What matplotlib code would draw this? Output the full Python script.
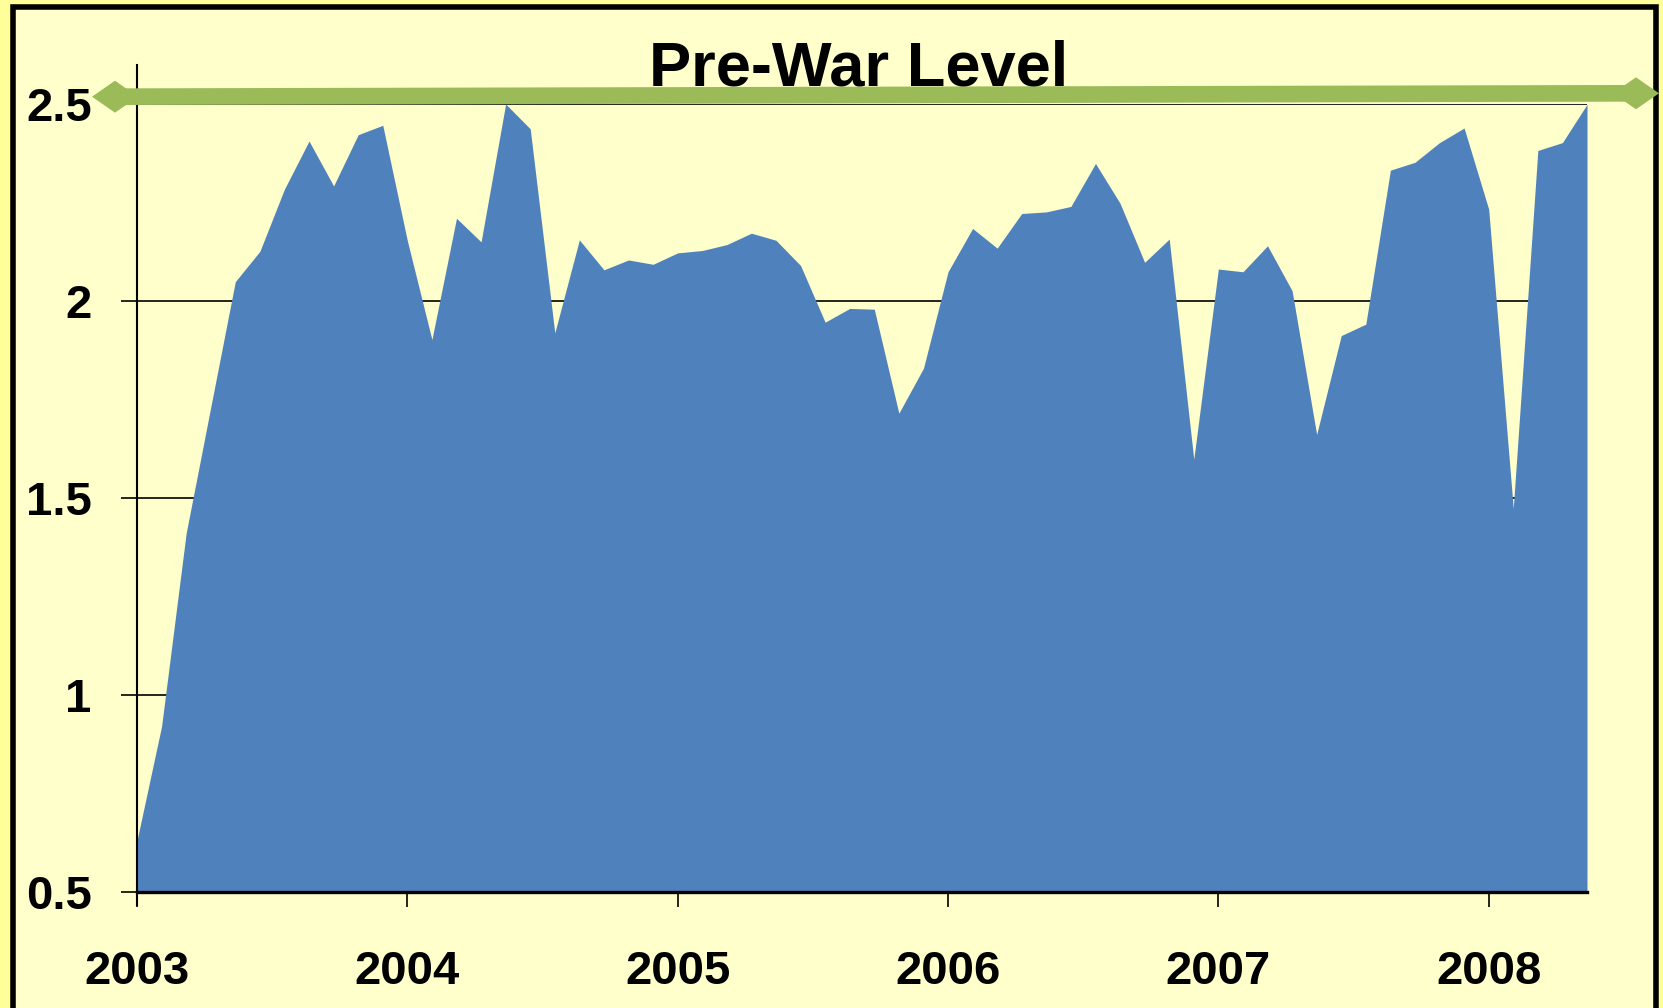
import matplotlib
matplotlib.use('Agg')
import matplotlib.pyplot as plt
from matplotlib.patches import Rectangle, Polygon
from matplotlib.lines import Line2D
import numpy as np

# monthly series, Jan 2003 onwards
values = [0.630, 0.920, 1.410, 1.730, 2.049, 2.126, 2.284, 2.406, 2.292, 2.422, 2.446,
          2.153, 1.902, 2.210, 2.150, 2.500, 2.437, 1.919, 2.155, 2.079, 2.104, 2.093,
          2.122, 2.128, 2.143, 2.172, 2.154, 2.090, 1.946, 1.981, 1.979, 1.715, 1.829,
          2.074, 2.184, 2.134, 2.222, 2.226, 2.240, 2.349, 2.248, 2.098, 2.157, 1.598,
          2.081, 2.074, 2.140, 2.026, 1.661, 1.912, 1.941, 2.332, 2.352, 2.402, 2.439,
          2.233, 1.473, 2.382, 2.402, 2.499]
years = ['2003', '2004', '2005', '2006', '2007', '2008']
ytick_vals = [0.5, 1, 1.5, 2, 2.5]
ytick_labels = ['0.5', '1', '1.5', '2', '2.5']
prewar_label = 'Pre-War Level'

W, H = 1663, 1008
plt.rcParams['font.family'] = ['Liberation Sans', 'DejaVu Sans']

fig = plt.figure(figsize=(W / 100, H / 100), dpi=100, facecolor='#FFFF99')


def fx(px):
    return px / W


def fy(py):
    return 1 - py / H


# framed inner panel
fig.patches.append(Rectangle((fx(12.5), fy(1015)), fx(1656) - fx(12.5), fy(7) - fy(1015),
                             transform=fig.transFigure, facecolor='#FFFFCC',
                             edgecolor='black', linewidth=4, zorder=-1))

ax = fig.add_axes([fx(137), fy(891.7), fx(1587) - fx(137), fy(104) - fy(891.7)])
ax.set_facecolor('none')

x = np.arange(len(values))
ax.fill_between(x, ytick_vals[0], values, color='#4F81BD', linewidth=0, zorder=2)

ax.set_xlim(0, len(values) - 1)
ax.set_ylim(ytick_vals[0], ytick_vals[-1])

ax.set_axisbelow(True)
ax.yaxis.grid(True, color='black', linewidth=1.2)
ax.xaxis.grid(False)

ax.set_yticks(ytick_vals)
ax.set_yticklabels(ytick_labels)
ax.set_xticks(x[::11][:len(years)])
ax.set_xticklabels(years)

ax.tick_params(axis='y', direction='out', length=11.5, width=1.2, pad=21,
               labelsize=34)
ax.tick_params(axis='x', direction='out', length=11, width=1.2, pad=31,
               labelsize=34)
for lab in ax.get_xticklabels() + ax.get_yticklabels():
    lab.set_fontweight('bold')

for s in ['top', 'right']:
    ax.spines[s].set_visible(False)
ax.spines['left'].set_linewidth(1.5)
ax.spines['left'].set_bounds(0.466, 2.60)
ax.spines['bottom'].set_linewidth(2.4)
ax.spines['bottom'].set_zorder(3)

# pre-war level double arrow
left_tip = (92, 96.7)
right_tip = (1659, 93.3)
half_len, half_h = 23, 16


def diamond(tip, direction):
    cx = tip[0] + direction * half_len
    cy = tip[1]
    pts = [(tip[0], cy), (cx, cy - half_h), (cx + direction * half_len, cy), (cx, cy + half_h)]
    return Polygon([(fx(a), fy(b)) for a, b in pts], closed=True,
                   transform=fig.transFigure, facecolor='#9BBB59',
                   edgecolor='none', zorder=5)


fig.lines.append(Line2D([fx(left_tip[0] + half_len), fx(right_tip[0] - half_len)],
                        [fy(left_tip[1]), fy(right_tip[1])],
                        transform=fig.transFigure, color='#9BBB59',
                        linewidth=12, solid_capstyle='butt', zorder=5))
fig.patches.append(diamond(left_tip, 1))
fig.patches.append(diamond(right_tip, -1))

fig.text(fx(858.5), fy(85), prewar_label, ha='center', va='baseline',
         fontsize=45.5, fontweight='bold', color='black', zorder=6)

fig.savefig('out.png', dpi=100, facecolor=fig.get_facecolor())
